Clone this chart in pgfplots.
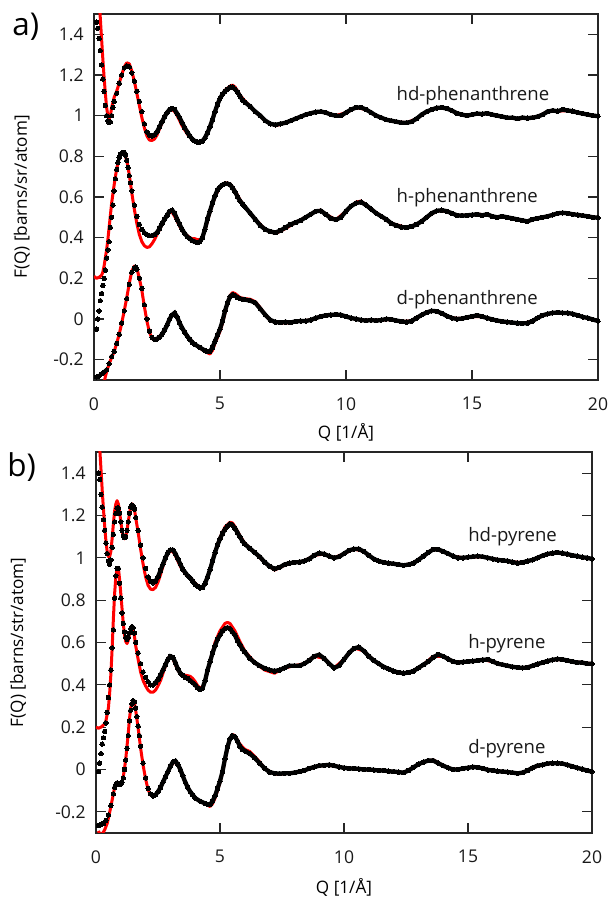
\documentclass[border=0pt]{standalone}
\usepackage{fontspec}
\setmainfont{Open Sans}
\usepackage{pgfplots}
\usepackage{pgfplotstable}
\pgfplotsset{compat=1.18}

% ---------- panel a: phenanthrene ----------
\pgfplotstableread{
x y
0.10 1.46
0.15 1.43
0.20 1.38
0.25 1.32
0.30 1.25
0.35 1.18
0.40 1.12
0.45 1.05
0.50 1.00
0.55 0.975
0.60 0.965
0.65 0.97
0.70 1.00
0.75 1.04
0.80 1.07
0.90 1.11
1.00 1.16
1.10 1.20
1.20 1.235
1.30 1.245
1.40 1.24
1.50 1.21
1.60 1.17
1.70 1.12
1.80 1.07
1.90 1.02
2.00 0.96
2.10 0.92
2.20 0.905
2.30 0.90
2.40 0.905
2.50 0.92
2.60 0.945
2.70 0.97
2.80 0.995
2.90 1.015
3.00 1.03
3.10 1.035
3.20 1.03
3.30 1.01
3.40 0.99
3.50 0.965
3.60 0.94
3.70 0.92
3.80 0.90
3.90 0.885
4.00 0.875
4.10 0.87
4.20 0.87
4.30 0.875
4.40 0.89
4.50 0.915
4.60 0.945
4.70 0.98
4.80 1.02
4.90 1.055
5.00 1.085
5.10 1.105
5.20 1.12
5.30 1.13
5.40 1.14
5.50 1.14
5.60 1.13
5.70 1.115
5.80 1.095
5.90 1.075
6.00 1.065
6.20 1.045
6.40 1.02
6.60 1.00
6.80 0.975
7.00 0.96
7.20 0.955
7.40 0.96
7.60 0.965
7.80 0.975
8.00 0.985
8.20 0.995
8.40 1.005
8.60 1.012
8.80 1.018
9.00 1.02
9.20 1.015
9.40 1.005
9.60 1.0
9.80 1.0
10.0 1.015
10.2 1.03
10.4 1.04
10.6 1.04
10.8 1.03
11.0 1.015
11.2 1.0
11.4 0.99
11.6 0.98
11.8 0.975
12.0 0.97
12.2 0.965
12.4 0.965
12.6 0.97
12.8 0.985
13.0 1.005
13.2 1.02
13.4 1.03
13.6 1.038
13.8 1.04
14.0 1.035
14.2 1.025
14.4 1.012
14.6 1.005
14.8 1.0
15.0 1.005
15.2 1.01
15.4 1.008
15.6 1.012
15.8 1.005
16.0 1.0
16.2 0.995
16.4 0.99
16.6 0.99
16.8 0.985
17.0 0.99
17.2 0.988
17.4 0.99
17.6 0.995
17.8 1.005
18.0 1.02
18.2 1.025
18.4 1.022
18.6 1.03
18.8 1.025
19.0 1.022
19.2 1.015
19.4 1.01
19.6 1.005
19.8 1.0
20.0 0.998
}\ahdd
\pgfplotstableread{
x y
0.15 1.70
0.20 1.58
0.25 1.48
0.30 1.38
0.35 1.28
0.40 1.19
0.45 1.11
0.50 1.04
0.55 1.00
0.60 0.985
0.65 1.00
0.70 1.04
0.80 1.09
0.90 1.12
1.00 1.16
1.10 1.20
1.20 1.24
1.30 1.26
1.40 1.255
1.50 1.22
1.60 1.17
1.70 1.11
1.80 1.05
1.90 0.99
2.00 0.94
2.10 0.90
2.20 0.88
2.30 0.878
2.40 0.885
2.50 0.905
2.60 0.935
2.70 0.965
2.80 0.995
2.90 1.015
3.00 1.028
3.10 1.03
3.20 1.02
3.30 1.0
3.40 0.975
3.50 0.95
3.60 0.93
3.70 0.91
3.80 0.895
3.90 0.885
4.00 0.875
4.10 0.87
4.20 0.87
4.30 0.875
4.40 0.89
4.50 0.915
4.60 0.945
4.70 0.98
4.80 1.02
4.90 1.055
5.00 1.085
5.20 1.125
5.40 1.145
5.50 1.15
5.60 1.14
5.80 1.10
6.00 1.07
6.40 1.02
6.80 0.975
7.20 0.95
7.60 0.965
8.00 0.985
8.40 1.005
8.80 1.018
9.20 1.015
9.60 1.0
10.0 1.015
10.4 1.04
10.8 1.03
11.2 1.0
11.6 0.98
12.0 0.97
12.4 0.965
12.8 0.985
13.2 1.02
13.6 1.038
14.0 1.035
14.4 1.012
14.8 1.0
15.2 1.01
15.6 1.01
16.0 1.0
16.4 0.99
16.8 0.985
17.2 0.988
17.6 0.995
18.0 1.02
18.4 1.022
18.8 1.025
19.2 1.015
19.6 1.005
20.0 0.998
}\ahdf
\pgfplotstableread{
x y
0.10 -0.05
0.15 0.00
0.20 0.04
0.25 0.09
0.30 0.125
0.35 0.165
0.40 0.20
0.45 0.24
0.50 0.30
0.55 0.34
0.60 0.38
0.65 0.45
0.70 0.50
0.75 0.56
0.80 0.63
0.85 0.69
0.90 0.735
0.95 0.77
1.00 0.795
1.05 0.81
1.10 0.815
1.15 0.82
1.20 0.82
1.25 0.805
1.30 0.78
1.35 0.745
1.40 0.705
1.45 0.67
1.50 0.63
1.60 0.56
1.70 0.505
1.80 0.465
1.90 0.44
2.00 0.425
2.10 0.415
2.20 0.41
2.30 0.41
2.40 0.415
2.50 0.425
2.60 0.445
2.70 0.47
2.80 0.49
2.90 0.51
3.00 0.53
3.10 0.535
3.20 0.52
3.30 0.49
3.40 0.465
3.50 0.44
3.60 0.42
3.70 0.405
3.80 0.395
3.90 0.385
4.00 0.38
4.10 0.375
4.20 0.38
4.30 0.40
4.40 0.44
4.50 0.49
4.60 0.53
4.70 0.57
4.80 0.605
4.90 0.635
5.00 0.65
5.10 0.66
5.20 0.665
5.30 0.665
5.40 0.66
5.50 0.645
5.60 0.625
5.70 0.60
5.80 0.58
5.90 0.565
6.00 0.55
6.20 0.52
6.40 0.49
6.60 0.46
6.80 0.44
7.00 0.43
7.20 0.425
7.40 0.435
7.60 0.45
7.80 0.465
8.00 0.475
8.20 0.485
8.40 0.50
8.60 0.515
8.80 0.53
9.00 0.532
9.20 0.515
9.40 0.495
9.60 0.488
9.80 0.50
10.0 0.53
10.2 0.555
10.4 0.57
10.6 0.575
10.8 0.56
11.0 0.54
11.2 0.52
11.4 0.505
11.6 0.49
11.8 0.47
12.0 0.46
12.2 0.452
12.4 0.45
12.6 0.455
12.8 0.465
13.0 0.48
13.2 0.50
13.4 0.52
13.6 0.532
13.8 0.535
14.0 0.53
14.2 0.52
14.4 0.51
14.6 0.508
14.8 0.51
15.0 0.512
15.2 0.515
15.4 0.51
15.6 0.515
15.8 0.505
16.0 0.50
16.2 0.505
16.4 0.50
16.6 0.495
16.8 0.49
17.0 0.485
17.2 0.48
17.4 0.49
17.6 0.495
17.8 0.50
18.0 0.505
18.2 0.512
18.4 0.52
18.6 0.522
18.8 0.52
19.0 0.515
19.2 0.512
19.4 0.508
19.6 0.505
19.8 0.50
20.0 0.498
}\ahd
\pgfplotstableread{
x y
0.00 0.21
0.10 0.20
0.20 0.205
0.30 0.215
0.35 0.23
0.40 0.26
0.45 0.30
0.50 0.34
0.55 0.39
0.60 0.45
0.65 0.51
0.70 0.57
0.80 0.66
0.90 0.74
1.00 0.79
1.10 0.815
1.20 0.815
1.30 0.78
1.40 0.71
1.50 0.62
1.60 0.54
1.70 0.47
1.80 0.415
1.90 0.38
2.00 0.36
2.10 0.352
2.20 0.355
2.30 0.37
2.40 0.39
2.50 0.415
2.60 0.44
2.70 0.465
2.80 0.49
2.90 0.51
3.00 0.525
3.10 0.525
3.20 0.505
3.30 0.48
3.40 0.455
3.50 0.435
3.60 0.42
3.70 0.41
3.80 0.40
3.90 0.395
4.00 0.395
4.10 0.39
4.20 0.39
4.30 0.40
4.40 0.435
4.50 0.48
4.60 0.525
4.80 0.60
5.00 0.65
5.20 0.67
5.40 0.665
5.60 0.63
5.80 0.585
6.00 0.55
6.40 0.49
6.80 0.44
7.20 0.42
7.60 0.445
8.00 0.475
8.40 0.50
8.80 0.53
9.00 0.535
9.20 0.515
9.60 0.488
10.0 0.53
10.4 0.575
10.6 0.58
11.0 0.54
11.4 0.505
11.8 0.47
12.4 0.45
12.8 0.465
13.2 0.50
13.6 0.532
14.0 0.53
14.4 0.51
14.8 0.51
15.2 0.515
15.6 0.512
16.0 0.50
16.4 0.50
16.8 0.49
17.2 0.48
17.6 0.495
18.0 0.505
18.4 0.52
18.8 0.52
19.2 0.512
19.6 0.505
20.0 0.498
}\ahf
\pgfplotstableread{
x y
0.10 -0.285
0.20 -0.28
0.30 -0.27
0.40 -0.26
0.50 -0.25
0.60 -0.22
0.70 -0.185
0.80 -0.16
0.90 -0.12
1.00 -0.075
1.10 -0.02
1.20 0.04
1.30 0.10
1.40 0.17
1.50 0.23
1.60 0.252
1.65 0.255
1.70 0.245
1.80 0.20
1.90 0.15
2.00 0.07
2.10 0.00
2.20 -0.06
2.30 -0.09
2.40 -0.10
2.50 -0.098
2.60 -0.09
2.70 -0.075
2.80 -0.055
2.90 -0.03
3.00 0.00
3.10 0.02
3.20 0.03
3.30 0.01
3.40 -0.02
3.50 -0.045
3.60 -0.065
3.70 -0.085
3.80 -0.10
3.90 -0.115
4.00 -0.125
4.20 -0.14
4.40 -0.155
4.50 -0.16
4.60 -0.16
4.70 -0.14
4.80 -0.11
4.90 -0.08
5.00 -0.05
5.10 -0.01
5.20 0.04
5.30 0.08
5.40 0.11
5.50 0.12
5.60 0.115
5.70 0.105
5.80 0.10
5.90 0.097
6.00 0.095
6.20 0.09
6.40 0.08
6.60 0.05
6.80 0.02
7.00 -0.005
7.20 -0.015
7.40 -0.017
7.60 -0.015
7.80 -0.017
8.00 -0.012
8.20 -0.01
8.40 -0.01
8.60 -0.005
8.80 0.005
9.00 0.012
9.20 0.018
9.40 0.02
9.60 0.022
9.80 0.02
10.0 0.012
10.2 0.005
10.4 0.0
10.6 -0.005
10.8 -0.008
11.0 -0.005
11.2 -0.008
11.4 -0.005
11.6 0.0
11.8 -0.002
12.0 -0.008
12.2 -0.012
12.4 -0.015
12.6 -0.01
12.8 0.005
13.0 0.02
13.2 0.032
13.4 0.04
13.6 0.038
13.8 0.028
14.0 0.015
14.2 0.005
14.4 0.0
14.6 0.002
14.8 0.008
15.0 0.012
15.2 0.018
15.4 0.012
15.6 0.005
15.8 -0.002
16.0 -0.008
16.2 -0.012
16.4 -0.015
16.6 -0.018
16.8 -0.02
17.0 -0.022
17.2 -0.02
17.4 -0.01
17.6 0.005
17.8 0.018
18.0 0.025
18.2 0.03
18.4 0.032
18.6 0.03
18.8 0.03
19.0 0.025
19.2 0.018
19.4 0.01
19.6 0.005
19.8 -0.003
20.0 -0.01
}\add
\pgfplotstableread{
x y
0.30 -0.36
0.40 -0.31
0.50 -0.26
0.60 -0.22
0.70 -0.19
0.80 -0.16
0.90 -0.12
1.00 -0.075
1.10 -0.02
1.20 0.04
1.30 0.105
1.40 0.175
1.50 0.235
1.60 0.26
1.70 0.25
1.80 0.20
1.90 0.14
2.00 0.06
2.10 -0.01
2.20 -0.065
2.30 -0.095
2.40 -0.105
2.60 -0.09
2.80 -0.055
3.00 0.0
3.10 0.02
3.20 0.028
3.40 -0.02
3.60 -0.065
3.80 -0.10
4.00 -0.125
4.20 -0.142
4.40 -0.16
4.60 -0.172
4.70 -0.155
4.80 -0.12
4.90 -0.09
5.00 -0.06
5.10 -0.02
5.20 0.03
5.30 0.08
5.40 0.115
5.50 0.13
5.60 0.125
5.80 0.105
6.00 0.10
6.20 0.097
6.40 0.085
6.60 0.055
6.80 0.02
7.00 -0.008
7.40 -0.02
7.80 -0.018
8.20 -0.01
8.60 -0.005
9.00 0.012
9.40 0.02
9.80 0.02
10.2 0.005
10.6 -0.005
11.0 -0.005
11.4 -0.005
11.8 -0.002
12.2 -0.012
12.6 -0.01
13.0 0.02
13.4 0.042
13.8 0.028
14.2 0.005
14.6 0.002
15.0 0.012
15.4 0.012
15.8 -0.002
16.2 -0.012
16.6 -0.018
17.0 -0.022
17.4 -0.01
17.8 0.018
18.2 0.03
18.6 0.032
19.0 0.025
19.4 0.01
19.8 -0.003
20.0 -0.01
}\adf

% ---------- panel b: pyrene ----------
\pgfplotstableread{
x y
0.10 1.40
0.15 1.37
0.20 1.30
0.25 1.24
0.30 1.18
0.35 1.13
0.40 1.07
0.45 1.02
0.50 0.985
0.55 0.97
0.60 0.99
0.65 1.05
0.70 1.11
0.75 1.17
0.80 1.21
0.85 1.235
0.90 1.235
0.95 1.21
1.00 1.17
1.05 1.13
1.10 1.105
1.15 1.095
1.20 1.10
1.25 1.13
1.30 1.17
1.35 1.21
1.40 1.24
1.45 1.25
1.50 1.245
1.55 1.23
1.60 1.19
1.70 1.13
1.80 1.06
1.90 1.00
2.00 0.95
2.10 0.91
2.20 0.89
2.30 0.882
2.40 0.89
2.50 0.91
2.60 0.94
2.70 0.97
2.80 1.0
2.90 1.025
3.00 1.037
3.10 1.037
3.20 1.02
3.30 0.995
3.40 0.97
3.50 0.945
3.60 0.93
3.70 0.915
3.80 0.905
3.90 0.89
4.00 0.875
4.10 0.865
4.20 0.858
4.30 0.86
4.40 0.88
4.50 0.91
4.60 0.945
4.70 0.985
4.80 1.025
4.90 1.06
5.00 1.09
5.10 1.115
5.20 1.135
5.30 1.15
5.40 1.16
5.50 1.155
5.60 1.14
5.70 1.12
5.80 1.10
5.90 1.08
6.00 1.065
6.20 1.045
6.40 1.025
6.60 1.005
6.80 0.98
7.00 0.96
7.20 0.948
7.40 0.955
7.60 0.968
7.80 0.975
8.00 0.978
8.20 0.98
8.40 0.985
8.60 0.995
8.80 1.012
9.00 1.022
9.20 1.018
9.40 1.008
9.60 1.0
9.80 1.005
10.0 1.02
10.2 1.035
10.4 1.042
10.6 1.042
10.8 1.03
11.0 1.012
11.2 0.995
11.4 0.985
11.6 0.978
11.8 0.975
12.0 0.972
12.2 0.968
12.4 0.965
12.6 0.968
12.8 0.975
13.0 0.99
13.2 1.008
13.4 1.025
13.6 1.04
13.8 1.04
14.0 1.03
14.2 1.02
14.4 1.008
14.6 1.0
14.8 1.0
15.0 1.003
15.2 1.005
15.4 1.008
15.6 1.005
15.8 1.0
16.0 0.995
16.2 0.99
16.4 0.988
16.6 0.985
16.8 0.98
17.0 0.975
17.2 0.978
17.4 0.985
17.6 0.99
17.8 1.0
18.0 1.01
18.2 1.018
18.4 1.022
18.6 1.025
18.8 1.022
19.0 1.018
19.2 1.012
19.4 1.008
19.6 1.003
19.8 1.0
20.0 0.995
}\bhdd
\pgfplotstableread{
x y
0.12 1.60
0.15 1.52
0.20 1.42
0.25 1.32
0.30 1.23
0.35 1.15
0.40 1.08
0.45 1.03
0.50 1.005
0.55 1.005
0.60 1.03
0.65 1.09
0.70 1.16
0.75 1.22
0.80 1.255
0.85 1.27
0.90 1.255
0.95 1.22
1.00 1.17
1.05 1.13
1.10 1.10
1.15 1.09
1.20 1.10
1.25 1.13
1.30 1.17
1.35 1.21
1.40 1.24
1.45 1.255
1.50 1.25
1.55 1.23
1.60 1.19
1.70 1.12
1.80 1.04
1.90 0.97
2.00 0.91
2.10 0.87
2.20 0.852
2.30 0.85
2.40 0.86
2.50 0.885
2.60 0.92
2.70 0.96
2.80 0.995
2.90 1.02
3.00 1.032
3.10 1.03
3.20 1.01
3.40 0.96
3.60 0.925
3.80 0.905
4.00 0.88
4.20 0.86
4.30 0.862
4.40 0.88
4.60 0.945
4.80 1.03
5.00 1.095
5.20 1.145
5.40 1.168
5.50 1.165
5.60 1.148
5.80 1.105
6.00 1.068
6.40 1.025
6.80 0.978
7.20 0.942
7.60 0.965
8.00 0.978
8.40 0.985
8.80 1.012
9.20 1.018
9.60 1.0
10.0 1.02
10.4 1.042
10.8 1.03
11.2 0.995
11.6 0.978
12.0 0.972
12.4 0.965
12.8 0.975
13.2 1.008
13.6 1.042
14.0 1.03
14.4 1.008
14.8 1.0
15.2 1.005
15.6 1.005
16.0 0.995
16.4 0.988
16.8 0.98
17.2 0.978
17.6 0.99
18.0 1.01
18.4 1.022
18.8 1.022
19.2 1.012
19.6 1.003
20.0 0.995
}\bhdf
\pgfplotstableread{
x y
0.10 -0.01
0.15 0.03
0.20 0.075
0.25 0.12
0.30 0.15
0.35 0.18
0.40 0.22
0.45 0.27
0.50 0.34
0.55 0.40
0.60 0.47
0.65 0.575
0.70 0.66
0.75 0.81
0.80 0.915
0.85 0.95
0.90 0.95
0.95 0.88
1.00 0.81
1.05 0.74
1.10 0.69
1.15 0.65
1.20 0.625
1.25 0.615
1.30 0.625
1.35 0.645
1.40 0.665
1.45 0.675
1.50 0.67
1.55 0.645
1.60 0.60
1.70 0.55
1.80 0.50
1.90 0.46
2.00 0.435
2.10 0.415
2.20 0.40
2.30 0.40
2.40 0.41
2.50 0.425
2.60 0.445
2.70 0.47
2.80 0.495
2.90 0.52
3.00 0.535
3.10 0.53
3.20 0.505
3.30 0.475
3.40 0.455
3.50 0.445
3.60 0.435
3.70 0.43
3.80 0.42
3.90 0.41
4.00 0.40
4.10 0.385
4.20 0.378
4.30 0.385
4.40 0.42
4.50 0.47
4.60 0.51
4.70 0.55
4.80 0.585
4.90 0.615
5.00 0.635
5.10 0.655
5.20 0.665
5.30 0.67
5.40 0.665
5.50 0.65
5.60 0.635
5.70 0.61
5.80 0.59
5.90 0.57
6.00 0.555
6.20 0.525
6.40 0.505
6.60 0.49
6.80 0.478
7.00 0.47
7.20 0.465
7.40 0.47
7.60 0.48
7.80 0.49
8.00 0.49
8.20 0.49
8.40 0.50
8.60 0.515
8.80 0.535
9.00 0.542
9.20 0.525
9.40 0.5
9.60 0.48
9.80 0.49
10.0 0.52
10.2 0.55
10.4 0.572
10.6 0.578
10.8 0.56
11.0 0.535
11.2 0.515
11.4 0.50
11.6 0.485
11.8 0.475
12.0 0.465
12.2 0.458
12.4 0.455
12.6 0.458
12.8 0.465
13.0 0.48
13.2 0.495
13.4 0.51
13.6 0.53
13.8 0.543
14.0 0.535
14.2 0.522
14.4 0.51
14.6 0.505
14.8 0.508
15.0 0.51
15.2 0.512
15.4 0.515
15.6 0.518
15.8 0.52
16.0 0.51
16.2 0.5
16.4 0.495
16.6 0.49
16.8 0.485
17.0 0.482
17.2 0.48
17.4 0.482
17.6 0.49
17.8 0.498
18.0 0.505
18.2 0.512
18.4 0.518
18.6 0.522
18.8 0.52
19.0 0.515
19.2 0.51
19.4 0.505
19.6 0.505
19.8 0.5
20.0 0.50
}\bhd
\pgfplotstableread{
x y
0.00 0.20
0.10 0.195
0.20 0.20
0.30 0.21
0.35 0.215
0.40 0.23
0.45 0.26
0.50 0.29
0.55 0.36
0.60 0.45
0.65 0.57
0.70 0.71
0.75 0.83
0.80 0.91
0.85 0.95
0.90 0.955
0.95 0.90
1.00 0.83
1.05 0.76
1.10 0.69
1.15 0.635
1.20 0.605
1.25 0.595
1.30 0.61
1.35 0.64
1.40 0.66
1.45 0.668
1.50 0.66
1.55 0.63
1.60 0.585
1.70 0.52
1.80 0.46
1.90 0.42
2.00 0.395
2.10 0.375
2.20 0.365
2.30 0.365
2.40 0.375
2.50 0.395
2.60 0.42
2.70 0.455
2.80 0.49
2.90 0.525
3.00 0.535
3.10 0.525
3.20 0.495
3.30 0.47
3.40 0.455
3.50 0.448
3.60 0.445
3.70 0.443
3.80 0.44
3.90 0.43
4.00 0.415
4.10 0.395
4.20 0.385
4.30 0.39
4.40 0.42
4.60 0.51
4.80 0.60
5.00 0.655
5.20 0.69
5.30 0.695
5.40 0.69
5.60 0.655
5.80 0.605
6.00 0.56
6.40 0.505
6.80 0.47
7.20 0.455
7.60 0.48
8.00 0.49
8.40 0.50
8.80 0.535
9.20 0.525
9.60 0.48
10.0 0.52
10.4 0.575
10.8 0.56
11.2 0.515
11.6 0.485
12.0 0.465
12.4 0.455
12.8 0.465
13.2 0.495
13.6 0.535
14.0 0.535
14.4 0.51
14.8 0.508
15.2 0.512
15.6 0.518
16.0 0.51
16.4 0.495
16.8 0.485
17.2 0.48
17.6 0.49
18.0 0.505
18.4 0.518
18.8 0.52
19.2 0.51
19.6 0.505
20.0 0.50
}\bhf
\pgfplotstableread{
x y
0.10 -0.265
0.20 -0.26
0.30 -0.255
0.40 -0.24
0.50 -0.215
0.60 -0.17
0.70 -0.115
0.75 -0.085
0.80 -0.07
0.85 -0.063
0.90 -0.065
0.95 -0.07
1.00 -0.068
1.05 -0.06
1.10 -0.04
1.15 0.0
1.20 0.045
1.25 0.10
1.30 0.16
1.35 0.23
1.40 0.28
1.45 0.31
1.50 0.325
1.55 0.32
1.60 0.29
1.65 0.25
1.70 0.205
1.75 0.16
1.80 0.11
1.90 0.03
2.00 -0.04
2.10 -0.09
2.20 -0.115
2.30 -0.125
2.40 -0.12
2.50 -0.105
2.60 -0.085
2.70 -0.06
2.80 -0.035
2.90 -0.01
3.00 0.015
3.10 0.035
3.20 0.04
3.30 0.025
3.40 0.0
3.50 -0.03
3.60 -0.06
3.70 -0.085
3.80 -0.105
3.90 -0.12
4.00 -0.135
4.20 -0.15
4.40 -0.16
4.50 -0.165
4.60 -0.165
4.70 -0.15
4.80 -0.125
4.90 -0.09
5.00 -0.055
5.10 -0.01
5.20 0.05
5.30 0.105
5.40 0.145
5.50 0.16
5.60 0.155
5.70 0.135
5.80 0.11
5.90 0.095
6.00 0.088
6.20 0.075
6.40 0.055
6.60 0.03
6.80 0.005
7.00 -0.012
7.20 -0.018
7.40 -0.02
7.60 -0.018
7.80 -0.018
8.00 -0.015
8.20 -0.01
8.40 -0.005
8.60 0.005
8.80 0.012
9.00 0.018
9.20 0.02
9.40 0.022
9.60 0.018
9.80 0.012
10.0 0.008
10.2 0.005
10.4 0.005
10.6 0.003
10.8 0.0
11.0 0.0
11.2 -0.002
11.4 -0.005
11.6 -0.005
11.8 -0.008
12.0 -0.01
12.2 -0.012
12.4 -0.015
12.6 -0.005
12.8 0.01
13.0 0.025
13.2 0.035
13.4 0.042
13.6 0.042
13.8 0.03
14.0 0.018
14.2 0.008
14.4 0.0
14.6 0.0
14.8 0.005
15.0 0.008
15.2 0.012
15.4 0.01
15.6 0.005
15.8 -0.002
16.0 -0.005
16.2 -0.008
16.4 -0.01
16.6 -0.012
16.8 -0.015
17.0 -0.018
17.2 -0.015
17.4 -0.005
17.6 0.008
17.8 0.018
18.0 0.022
18.2 0.028
18.4 0.03
18.6 0.03
18.8 0.028
19.0 0.022
19.2 0.015
19.4 0.008
19.6 0.002
19.8 -0.005
20.0 -0.01
}\bdd
\pgfplotstableread{
x y
0.10 -0.29
0.15 -0.305
0.20 -0.31
0.25 -0.305
0.30 -0.295
0.35 -0.285
0.40 -0.27
0.45 -0.255
0.50 -0.23
0.60 -0.175
0.70 -0.115
0.75 -0.085
0.80 -0.07
0.85 -0.063
0.90 -0.067
0.95 -0.072
1.00 -0.07
1.05 -0.06
1.10 -0.035
1.15 0.005
1.20 0.05
1.25 0.11
1.30 0.17
1.35 0.24
1.40 0.29
1.45 0.315
1.50 0.325
1.55 0.315
1.60 0.28
1.70 0.195
1.80 0.10
1.90 0.02
2.00 -0.045
2.10 -0.095
2.20 -0.12
2.30 -0.128
2.40 -0.122
2.60 -0.085
2.80 -0.035
3.00 0.015
3.20 0.04
3.40 0.0
3.60 -0.06
3.80 -0.105
4.00 -0.135
4.20 -0.15
4.40 -0.162
4.60 -0.175
4.70 -0.162
4.80 -0.135
4.90 -0.1
5.00 -0.06
5.10 -0.015
5.20 0.045
5.30 0.10
5.40 0.145
5.50 0.165
5.60 0.16
5.80 0.12
6.00 0.095
6.20 0.085
6.40 0.062
6.60 0.035
6.80 0.005
7.20 -0.022
7.60 -0.02
8.00 -0.015
8.40 -0.005
8.80 0.012
9.20 0.02
9.60 0.018
10.0 0.008
10.4 0.005
10.8 0.0
11.2 -0.002
11.6 -0.005
12.0 -0.01
12.4 -0.015
12.8 0.01
13.2 0.035
13.6 0.045
14.0 0.018
14.4 0.0
14.8 0.005
15.2 0.012
15.6 0.005
16.0 -0.005
16.4 -0.01
16.8 -0.015
17.2 -0.015
17.6 0.008
18.0 0.022
18.4 0.03
18.8 0.028
19.2 0.015
19.6 0.002
20.0 -0.01
}\bdf

\pgfplotsset{
  fq/.style={
    scale only axis,
    anchor=south west,
    xmin=0, xmax=20, ymin=-0.3, ymax=1.5,
    xtick={0,5,10,15,20},
    ytick={-0.2,0,0.2,0.4,0.6,0.8,1,1.2,1.4},
    tick align=inside,
    major tick length=7pt,
    minor tick num=0,
    axis line style={line width=0.9pt, black!85},
    every tick/.style={line width=0.8pt, black!85},
    /pgf/number format/assume math mode=true,
    tick label style={font=\fontsize{12.3}{14}\selectfont, text=black!90},
    xticklabel style={yshift=-8pt},
    yticklabel style={xshift=-3pt},
    label style={font=\fontsize{12.5}{14}\selectfont, text=black!90},
    xlabel={Q [1/Å]},
    clip=true,
  },
  dat/.style={only marks, mark=*, mark size=1.55pt, black, mark options={draw=black, fill=black, line width=0pt}},
  datline/.style={black, line width=3pt, no marks, restrict x to domain=2.4:20},
  fit/.style={red, line width=2.1pt, no marks, line join=round},
}
\tikzset{lab/.style={anchor=west, inner sep=0pt, font=\fontsize{13}{15}\selectfont, text=black!90}}

\begin{document}
\fontsize{12}{14}\selectfont
\begin{tikzpicture}
\useasboundingbox (0,0) rectangle (427.7pt,629.3pt);

\node[anchor=west, inner sep=0pt, font=\fontsize{22}{26}\selectfont] at (8.5pt,610.4pt) {a)};
\node[anchor=west, inner sep=0pt, font=\fontsize{22}{26}\selectfont] at (5pt,302.4pt) {b)};

\begin{axis}[fq,
  at={(65.8pt,363.3pt)}, width=352.8pt, height=256.2pt,
  ylabel={F(Q) [barns/sr/atom]},
  every axis y label/.style={at={(axis description cs:-0.143,0.5)}, rotate=90, anchor=center},
  every axis x label/.style={at={(axis description cs:0.5,-0.142)}, anchor=center},
]
\addplot[fit] table {\ahdf};
\addplot[fit] table {\ahf};
\addplot[fit] table {\adf};
\addplot[datline] table {\ahdd};
\addplot[datline] table {\ahd};
\addplot[datline] table {\add};
\addplot[dat] table {\ahdd};
\addplot[dat] table {\ahd};
\addplot[dat] table {\add};
\node[lab] at (axis cs:12,1.10) {hd-phenanthrene};
\node[lab] at (axis cs:12,0.595) {h-phenanthrene};
\node[lab] at (axis cs:12,0.096) {d-phenanthrene};
\end{axis}

\begin{axis}[fq,
  at={(67.2pt,46.2pt)}, width=347.2pt, height=266.7pt,
  ylabel={F(Q) [barns/str/atom]},
  every axis y label/.style={at={(axis description cs:-0.157,0.5)}, rotate=90, anchor=center},
  every axis x label/.style={at={(axis description cs:0.5,-0.144)}, anchor=center},
]
\addplot[fit] table {\bhdf};
\addplot[fit] table {\bhf};
\addplot[fit] table {\bdf};
\addplot[datline] table {\bhdd};
\addplot[datline] table {\bhd};
\addplot[datline] table {\bdd};
\addplot[dat] table {\bhdd};
\addplot[dat] table {\bhd};
\addplot[dat] table {\bdd};
\node[lab] at (axis cs:15,1.098) {hd-pyrene};
\node[lab] at (axis cs:15,0.595) {h-pyrene};
\node[lab] at (axis cs:15,0.097) {d-pyrene};
\end{axis}
\end{tikzpicture}
\end{document}
